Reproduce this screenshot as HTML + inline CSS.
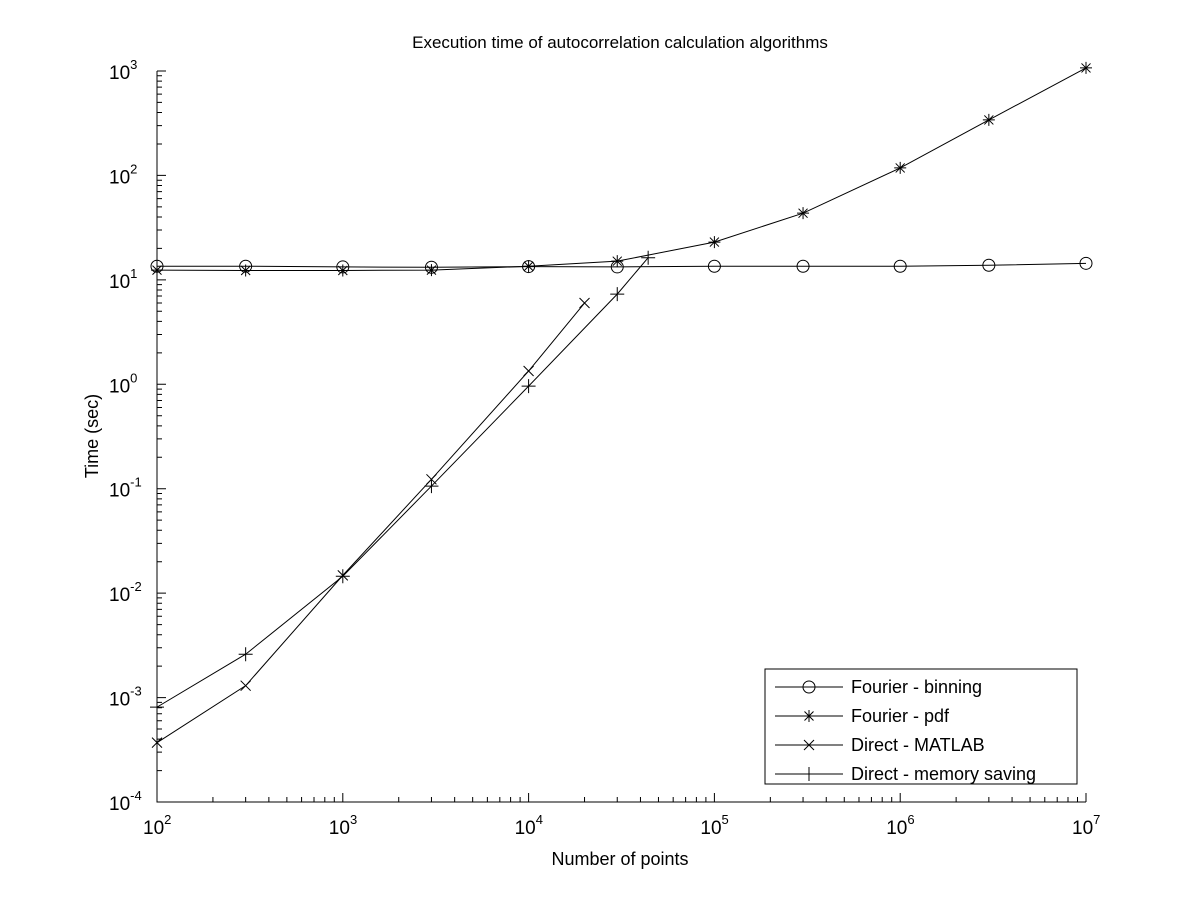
<!DOCTYPE html>
<html><head><meta charset="utf-8"><style>
body{margin:0;background:#fff;}
svg{font-family:"Liberation Sans",sans-serif;}
</style></head><body>
<svg id="chart" width="1200" height="900" xmlns="http://www.w3.org/2000/svg">
<rect width="1200" height="900" fill="#fff"/>
<text x="620" y="48" font-size="17" text-anchor="middle">Execution time of autocorrelation calculation algorithms</text>
<text x="620" y="865" font-size="18" text-anchor="middle">Number of points</text>
<text transform="translate(98,436) rotate(-90)" font-size="18" text-anchor="middle">Time (sec)</text>
<g id="axes"></g>
<g id="series"></g>
<g id="legend"></g>
</svg>
<script>
const xCats=[100,300,1000,3000,1e4,3e4,1e5,3e5,1e6,3e6,1e7];
const fourierBinning=[13.5,13.5,13.3,13.2,13.4,13.3,13.5,13.5,13.5,13.8,14.4];
const fourierPdf=[12.4,12.3,12.3,12.4,13.5,15.1,23,43.5,118,340,1070];
const matlabX=[100,300,1000,3000,1e4,2e4];
const directMatlab=[3.7e-4,1.3e-3,0.0148,0.123,1.34,6.0];
const memX=[100,300,1000,3000,1e4,3e4,44000];
const directMem=[8.1e-4,2.6e-3,0.0145,0.106,0.96,7.3,16.3];
const xDecades=[2,3,4,5,6,7];
const yDecades=[-4,-3,-2,-1,0,1,2,3];

const NS="http://www.w3.org/2000/svg";
const X0=157,X1=1086,Y0=802,Y1=71;
const xs=v=>X0+(Math.log10(v)-2)/5*(X1-X0);
const ys=v=>Y0-(Math.log10(v)+4)/7*(Y0-Y1);
function el(tag,attrs,parent){const e=document.createElementNS(NS,tag);for(const k in attrs)e.setAttribute(k,attrs[k]);parent.appendChild(e);return e;}
const axes=document.getElementById('axes');
const ax=el('path',{d:`M${X0},${Y1}V${Y0}H${X1}`,fill:'none',stroke:'#000','stroke-width':1},axes);


let d='';
for(let e=2;e<=7;e++){
  const x=xs(Math.pow(10,e));
  d+=`M${x},${Y0}v-9`;
  if(e<7)for(let m=2;m<=9;m++){const xm=xs(m*Math.pow(10,e));d+=`M${xm},${Y0}v-5`;}
}
for(let e=-4;e<=3;e++){
  const y=ys(Math.pow(10,e));
  d+=`M${X0},${y}h9`;
  if(e<3)for(let m=2;m<=9;m++){const ym=ys(m*Math.pow(10,e));d+=`M${X0},${ym}h5`;}
}
const tk=el('path',{d:d,stroke:'#000','stroke-width':1,fill:'none'},axes);


xDecades.forEach(e=>{
  const t=el('text',{x:xs(Math.pow(10,e))-14,y:Y0+32,'font-size':19},axes);
  
  
  t.innerHTML=`10<tspan dy="-10" font-size="13">${e}</tspan>`;
});
yDecades.forEach(e=>{
  const t=el('text',{x:X0-48,y:ys(Math.pow(10,e))+8,'font-size':19},axes);
  
  
  t.innerHTML=`10<tspan dy="-10" font-size="13">${e}</tspan>`;
});
function marker(type,x,y,g){
  let p;
  if(type==='o')p=el('circle',{cx:x,cy:y,r:6,fill:'none',stroke:'#000'},g);
  else if(type==='*')p=el('path',{d:`M${x-6},${y}h12M${x},${y-6}v12M${x-4.5},${y-4.5}l9,9M${x-4.5},${y+4.5}l9,-9`,stroke:'#000',fill:'none'},g);
  else if(type==='x')p=el('path',{d:`M${x-5},${y-5}l10,10M${x-5},${y+5}l10,-10`,stroke:'#000',fill:'none'},g);
  else p=el('path',{d:`M${x-7},${y}h14M${x},${y-7}v14`,stroke:'#000',fill:'none'},g);
  return p;
}
const series=document.getElementById('series');
function drawSeries(xv,yv,type,name){
  const g=el('g',{},series);
  
  
  el('polyline',{points:xv.map((x,i)=>xs(x)+','+ys(yv[i])).join(' '),fill:'none',stroke:'#000','stroke-width':1},g);
  xv.forEach((x,i)=>{const m=marker(type,xs(x),ys(yv[i]),g);});
}
drawSeries(xCats,fourierBinning,'o','series-fourier-binning');
drawSeries(xCats,fourierPdf,'*','series-fourier-pdf');
drawSeries(matlabX,directMatlab,'x','series-direct-matlab');
drawSeries(memX,directMem,'+','series-direct-memory-saving');
const lg=document.getElementById('legend');
el('rect',{x:765,y:669,width:312,height:115,fill:'#fff',stroke:'#000'},lg);
const labels=['Fourier - binning','Fourier - pdf','Direct - MATLAB','Direct - memory saving'];
const types=['o','*','x','+'];
const ly=[687,716,745,774];
labels.forEach((l,i)=>{
  const g=el('g',{},lg);
  
  
  el('line',{x1:775,x2:843,y1:ly[i],y2:ly[i],stroke:'#000'},g);
  marker(types[i],809,ly[i],g);
  const t=el('text',{x:851,y:ly[i]+6,'font-size':18},g);
  t.textContent=l;
});
</script>
</body></html>
